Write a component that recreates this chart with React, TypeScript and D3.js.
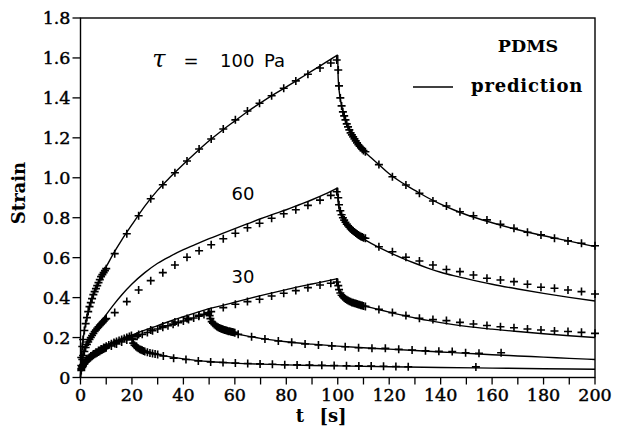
import React from "react";
import * as d3 from "d3";

// ---------- time grids ----------
const creepDenseT = [0.3, 0.7, 1, 1.5, 2, 2.5, 3, 3.5, 4, 4.5, 5, 5.5, 6, 6.5, 7, 7.5, 8, 8.5, 9, 9.5, 10];
const creepT = [13.3, 18, 22.6, 27.3, 32, 36.7, 41.4, 46.1, 50.8, 55.5, 60.2, 64.9, 69.6, 74.3, 79, 83.7, 88.4, 93.1, 97.3, 99.6];
const recDenseT = [100.2, 100.5, 101, 101.5, 102, 102.5, 103, 103.5, 104, 104.5, 105, 105.5, 106, 106.5, 107, 107.5, 108, 108.5, 109, 109.5, 110];
const recT = [110.75, 116, 121.25, 126.5, 131.75, 137, 142.25, 147.5, 152.75, 158, 163.25, 168.5, 173.75, 179, 184.25, 189.5, 194.75, 200];

// ---------- measured strain: 100 Pa ----------
const m100CreepDense = [0.10, 0.155, 0.19, 0.235, 0.27, 0.30, 0.33, 0.355, 0.375, 0.395, 0.415, 0.43, 0.445, 0.46, 0.475, 0.49, 0.505, 0.515, 0.525, 0.535, 0.545];
const m100Creep = [0.62, 0.72, 0.81, 0.895, 0.965, 1.025, 1.084, 1.144, 1.194, 1.244, 1.29, 1.334, 1.373, 1.411, 1.448, 1.485, 1.518, 1.55, 1.575, 1.59];
const m100RecDense = [1.54, 1.46, 1.40, 1.36, 1.33, 1.31, 1.29, 1.27, 1.255, 1.24, 1.225, 1.215, 1.205, 1.195, 1.185, 1.175, 1.165, 1.158, 1.15, 1.143, 1.136];
const m100Rec = [1.13, 1.066, 1.005, 0.964, 0.922, 0.884, 0.859, 0.83, 0.81, 0.789, 0.767, 0.747, 0.727, 0.714, 0.697, 0.684, 0.672, 0.66];

// ---------- measured strain: 60 Pa ----------
const m60CreepDense = [0.06, 0.09, 0.11, 0.13, 0.15, 0.165, 0.178, 0.19, 0.2, 0.21, 0.22, 0.23, 0.238, 0.246, 0.254, 0.261, 0.268, 0.275, 0.282, 0.289, 0.295];
const m60Creep = [0.325, 0.38, 0.438, 0.485, 0.525, 0.563, 0.602, 0.635, 0.665, 0.695, 0.722, 0.75, 0.772, 0.797, 0.82, 0.84, 0.862, 0.888, 0.912, 0.93];
const m60RecDense = [0.90, 0.865, 0.835, 0.815, 0.80, 0.788, 0.777, 0.768, 0.76, 0.752, 0.745, 0.739, 0.733, 0.728, 0.723, 0.718, 0.714, 0.71, 0.706, 0.703, 0.70];
const m60Rec = [0.697, 0.655, 0.63, 0.602, 0.583, 0.563, 0.541, 0.53, 0.513, 0.497, 0.488, 0.48, 0.467, 0.452, 0.447, 0.438, 0.43, 0.418];

// ---------- measured strain: 30 Pa, 100 s ----------
const m30CreepDense = [0.04, 0.052, 0.06, 0.07, 0.079, 0.086, 0.093, 0.099, 0.104, 0.109, 0.114, 0.119, 0.123, 0.127, 0.131, 0.135, 0.139, 0.142, 0.146, 0.149, 0.152];
const m30Creep = [0.17, 0.195, 0.215, 0.238, 0.258, 0.278, 0.296, 0.312, 0.33, 0.35, 0.367, 0.38, 0.392, 0.408, 0.422, 0.435, 0.45, 0.463, 0.472, 0.478];
const m30RecDense = [0.46, 0.44, 0.423, 0.412, 0.404, 0.398, 0.393, 0.389, 0.385, 0.382, 0.379, 0.376, 0.374, 0.372, 0.37, 0.368, 0.366, 0.364, 0.362, 0.36, 0.358];
const m30Rec = [0.356, 0.341, 0.325, 0.31, 0.297, 0.29, 0.285, 0.276, 0.268, 0.26, 0.254, 0.249, 0.243, 0.238, 0.233, 0.23, 0.226, 0.221];

// ---------- measured strain: 30 Pa, 50 s ----------
const m30bCreepDense = [0.035, 0.05, 0.058, 0.068, 0.076, 0.083, 0.09, 0.096, 0.101, 0.106, 0.111, 0.116, 0.12, 0.124, 0.128, 0.132, 0.136, 0.139, 0.143, 0.146, 0.149];
const m30bCreepT = [12, 14, 16, 18, 20, 22, 24, 26, 28, 30, 32, 34, 36, 38, 40, 42, 44, 46, 48, 49.7];
const m30bCreep = [0.158, 0.168, 0.178, 0.188, 0.197, 0.207, 0.216, 0.225, 0.234, 0.243, 0.251, 0.259, 0.267, 0.275, 0.283, 0.29, 0.298, 0.307, 0.316, 0.325];
const m30bRecDenseT = [50.2, 50.5, 51, 51.5, 52, 52.5, 53, 53.5, 54, 54.5, 55, 55.5, 56, 56.5, 57, 57.5, 58, 58.5, 59, 59.5, 60];
const m30bRecDense = [0.31, 0.295, 0.28, 0.272, 0.265, 0.26, 0.255, 0.251, 0.248, 0.245, 0.243, 0.24, 0.238, 0.236, 0.234, 0.232, 0.231, 0.229, 0.228, 0.226, 0.224];
const m30bRecT = [61.3, 66.5, 71.7, 76.9, 82.1, 87.3, 92.5, 97.7, 102.9, 108.1, 113.3, 118.5, 123.7, 128.9, 134.1, 139.3, 144.5, 149.7, 154.9, 163.5];
const m30bRec = [0.216, 0.204, 0.193, 0.183, 0.176, 0.168, 0.163, 0.158, 0.154, 0.149, 0.146, 0.146, 0.141, 0.138, 0.134, 0.131, 0.13, 0.124, 0.121, 0.124];

// ---------- measured strain: 30 Pa, 20 s ----------
const m30cCreepT = [0.3, 0.6, 1, 1.5, 2, 2.5, 3, 3.5, 4, 5, 6, 7, 8, 9, 10, 11, 12, 13, 14, 15, 16, 17, 18, 19, 19.8];
const m30cCreep = [0.045, 0.055, 0.065, 0.074, 0.082, 0.089, 0.096, 0.102, 0.108, 0.118, 0.127, 0.135, 0.143, 0.15, 0.157, 0.163, 0.169, 0.175, 0.18, 0.185, 0.19, 0.195, 0.2, 0.205, 0.21];
const m30cRecDenseT = [20.2, 20.5, 21, 21.5, 22, 22.5, 23, 23.5, 24, 24.5, 25, 26, 27, 28, 29, 30];
const m30cRecDense = [0.19, 0.172, 0.162, 0.155, 0.15, 0.146, 0.142, 0.139, 0.136, 0.133, 0.13, 0.126, 0.123, 0.12, 0.118, 0.115];
const m30cRecT = [32.2, 36.2, 41, 45.8, 50.6, 55.4, 60.2, 65, 69.8, 74.6, 79.4, 84.2, 89, 93.8, 98.6, 103.4, 108.2, 113, 117.8, 122.6, 127.4, 153.7];
const m30cRec = [0.108, 0.097, 0.09, 0.083, 0.078, 0.075, 0.072, 0.07, 0.068, 0.066, 0.064, 0.063, 0.062, 0.061, 0.06, 0.059, 0.058, 0.057, 0.056, 0.055, 0.054, 0.053];

// ---------- prediction curves ----------
const predCreepT = [0, 0.1, 0.3, 0.6, 1, 1.5, 2, 3, 4, 5, 6, 7, 8, 10, 13, 16, 20, 25, 30, 35, 40, 45, 50, 55, 60, 65, 70, 75, 80, 85, 90, 95, 100];
const predRecT = [100, 100.1, 100.3, 100.6, 101, 101.5, 102, 103, 104, 105, 106, 108, 110, 113, 116, 120, 125, 130, 135, 140, 145, 150, 160, 170, 180, 190, 200];
const p100Creep = [0, 0.06, 0.1, 0.15, 0.19, 0.235, 0.27, 0.33, 0.38, 0.42, 0.45, 0.48, 0.51, 0.555, 0.625, 0.688, 0.765, 0.858, 0.938, 1.005, 1.068, 1.128, 1.185, 1.237, 1.285, 1.332, 1.375, 1.416, 1.455, 1.495, 1.535, 1.575, 1.615];
const p100Rec = [1.615, 1.53, 1.47, 1.43, 1.395, 1.36, 1.33, 1.285, 1.25, 1.222, 1.2, 1.165, 1.135, 1.1, 1.066, 1.02, 0.975, 0.937, 0.9, 0.868, 0.84, 0.815, 0.775, 0.74, 0.71, 0.683, 0.655];
const p60Creep = [0, 0.04, 0.07, 0.1, 0.12, 0.145, 0.165, 0.19, 0.21, 0.228, 0.246, 0.264, 0.281, 0.315, 0.366, 0.413, 0.468, 0.525, 0.572, 0.608, 0.64, 0.668, 0.695, 0.72, 0.745, 0.77, 0.795, 0.818, 0.84, 0.865, 0.89, 0.918, 0.95];
const p60Rec = [0.95, 0.89, 0.86, 0.84, 0.822, 0.806, 0.792, 0.77, 0.752, 0.738, 0.727, 0.708, 0.693, 0.672, 0.652, 0.627, 0.598, 0.572, 0.548, 0.527, 0.51, 0.495, 0.467, 0.443, 0.421, 0.401, 0.383];
const p30Creep = [0, 0.03, 0.045, 0.055, 0.063, 0.072, 0.08, 0.094, 0.106, 0.116, 0.125, 0.134, 0.142, 0.157, 0.175, 0.192, 0.212, 0.237, 0.26, 0.283, 0.304, 0.325, 0.345, 0.36, 0.377, 0.394, 0.41, 0.425, 0.44, 0.455, 0.468, 0.481, 0.495];
const p30Rec = [0.495, 0.46, 0.44, 0.428, 0.418, 0.41, 0.403, 0.393, 0.386, 0.38, 0.375, 0.367, 0.36, 0.35, 0.34, 0.327, 0.312, 0.298, 0.286, 0.275, 0.265, 0.256, 0.242, 0.23, 0.219, 0.209, 0.2];
const p30bRecT = [50, 50.1, 50.3, 50.6, 51, 52, 53, 54, 56, 58, 60, 65, 70, 75, 80, 90, 100, 110, 120, 130, 140, 150, 160, 170, 180, 190, 200];
const p30bRec = [0.345, 0.31, 0.295, 0.285, 0.277, 0.263, 0.254, 0.247, 0.237, 0.229, 0.222, 0.207, 0.196, 0.187, 0.179, 0.167, 0.157, 0.149, 0.142, 0.135, 0.128, 0.121, 0.114, 0.108, 0.102, 0.096, 0.09];
const p30cRecT = [20, 20.1, 20.3, 20.6, 21, 22, 23, 24, 26, 28, 30, 35, 40, 45, 50, 60, 70, 80, 90, 100, 120, 140, 160, 180, 200];
const p30cRec = [0.212, 0.19, 0.178, 0.17, 0.163, 0.152, 0.144, 0.138, 0.129, 0.122, 0.116, 0.103, 0.093, 0.086, 0.08, 0.072, 0.067, 0.063, 0.06, 0.058, 0.054, 0.05, 0.047, 0.044, 0.041];

// ---------- axes ----------
const yTicks = [0, 0.2, 0.4, 0.6, 0.8, 1.0, 1.2, 1.4, 1.6, 1.8];
const yTickLabels = ["0", "0.2", "0.4", "0.6", "0.8", "1.0", "1.2", "1.4", "1.6", "1.8"];
const xMinorTicks = [0, 10, 20, 30, 40, 50, 60, 70, 80, 90, 100, 110, 120, 130, 140, 150, 160, 170, 180, 190, 200];
const xTickLabels = [0, 20, 40, 60, 80, 100, 120, 140, 160, 180, 200];

type P = [number, number];
const zip = (ts: number[], vs: number[]): P[] => ts.map((t, i) => [t, vs[i]] as P);

export default function App() {
  const W = 618, H = 433;
  const x = d3.scaleLinear().domain([0, 200]).range([80.5, 595]);
  const y = d3.scaleLinear().domain([0, 1.8]).range([377.5, 18]);
  const line = d3.line<P>().x((d) => x(d[0])).y((d) => y(d[1])).curve(d3.curveMonotoneX);

  const predLines: P[][] = [
    zip(predCreepT, p100Creep), zip(predRecT, p100Rec),
    zip(predCreepT, p60Creep), zip(predRecT, p60Rec),
    zip(predCreepT, p30Creep), zip(predRecT, p30Rec),
    zip(p30bRecT, p30bRec),
    zip(p30cRecT, p30cRec),
  ];

  const marks: P[] = [
    ...zip(creepDenseT, m100CreepDense), ...zip(creepT, m100Creep), ...zip(recDenseT, m100RecDense), ...zip(recT, m100Rec),
    ...zip(creepDenseT, m60CreepDense), ...zip(creepT, m60Creep), ...zip(recDenseT, m60RecDense), ...zip(recT, m60Rec),
    ...zip(creepDenseT, m30CreepDense), ...zip(creepT, m30Creep), ...zip(recDenseT, m30RecDense), ...zip(recT, m30Rec),
    ...zip(creepDenseT, m30bCreepDense), ...zip(m30bCreepT, m30bCreep), ...zip(m30bRecDenseT, m30bRecDense), ...zip(m30bRecT, m30bRec),
    ...zip(m30cCreepT, m30cCreep), ...zip(m30cRecDenseT, m30cRecDense), ...zip(m30cRecT, m30cRec),
  ];

  const serif = "'DejaVu Serif', serif";
  const sans = "'DejaVu Sans', sans-serif";
  const cs = 4;

  return (
    <svg width={W} height={H} style={{ position: "absolute", left: 0, top: 0, background: "#fff" }}>
      <rect x={0} y={0} width={W} height={H} fill="#fff" />
      {/* frame */}
      <rect x={x(0)} y={y(1.8)} width={x(200) - x(0)} height={y(0) - y(1.8)} fill="none" stroke="#000" strokeWidth={1.4} />
      {/* y ticks */}
      {yTicks.map((v, i) => (
        <g key={"y" + i}>
          <line x1={x(0) - 8} x2={x(0)} y1={y(v)} y2={y(v)} stroke="#000" strokeWidth={1.3} />
          <text x={x(0) - 10} y={y(v)} dy="0.36em" textAnchor="end" fontFamily={serif} fontSize={17.5} fill="#000" stroke="#000" strokeWidth={0.45}>
            {yTickLabels[i]}
          </text>
        </g>
      ))}
      {/* x ticks */}
      {xMinorTicks.map((t) => (
        <line key={"xt" + t} x1={x(t)} x2={x(t)} y1={y(0)} y2={y(0) + 7} stroke="#000" strokeWidth={1.3} />
      ))}
      {xTickLabels.map((t) => (
        <text key={"xl" + t} x={x(t)} y={401} textAnchor="middle" fontFamily={serif} fontSize={17.5} fill="#000" stroke="#000" strokeWidth={0.45}>
          {t}
        </text>
      ))}
      {/* axis titles */}
      <text x={300} y={422} textAnchor="middle" fontFamily={serif} fontWeight="bold" fontSize={18} fill="#000">t</text>
      <text x={333} y={422} textAnchor="middle" fontFamily={serif} fontWeight="bold" fontSize={18} fill="#000">[s]</text>
      <text transform="translate(25,193) rotate(-90)" textAnchor="middle" fontFamily={serif} fontWeight="bold" fontSize={18} fill="#000">
        Strain
      </text>
      {/* prediction lines */}
      {predLines.map((pts, i) => (
        <path key={"p" + i} d={line(pts) || ""} fill="none" stroke="#000" strokeWidth={1.4} />
      ))}
      {/* measured crosses */}
      <path
        d={marks
          .map((d) => {
            const px = x(d[0]), py = y(d[1]);
            return `M${px - cs},${py}H${px + cs}M${px},${py - cs}V${py + cs}`;
          })
          .join("")}
        fill="none"
        stroke="#000"
        strokeWidth={1.6}
      />
      {/* annotations */}
      <text x={159} y={67} textAnchor="middle" fontFamily={serif} fontStyle="italic" fontSize={24} fill="#000">τ</text>
      <text x={191} y={67} textAnchor="middle" fontFamily={sans} fontSize={18} fill="#000">=</text>
      <text x={220} y={67} fontFamily={sans} fontSize={18} fill="#000">100</text>
      <text x={264} y={67} fontFamily={sans} fontSize={18} fill="#000">Pa</text>
      <text x={243} y={200} textAnchor="middle" fontFamily={sans} fontSize={18} fill="#000">60</text>
      <text x={243} y={283} textAnchor="middle" fontFamily={sans} fontSize={18} fill="#000">30</text>
      {/* legend */}
      <text x={528} y={52} textAnchor="middle" fontFamily={serif} fontWeight="bold" fontSize={17.5} fill="#000">PDMS</text>
      <line x1={413} x2={453} y1={87} y2={87} stroke="#000" strokeWidth={1.4} />
      <text x={471} y={92} fontFamily={serif} fontWeight="bold" fontSize={18} letterSpacing={0.8} fill="#000">prediction</text>
    </svg>
  );
}
